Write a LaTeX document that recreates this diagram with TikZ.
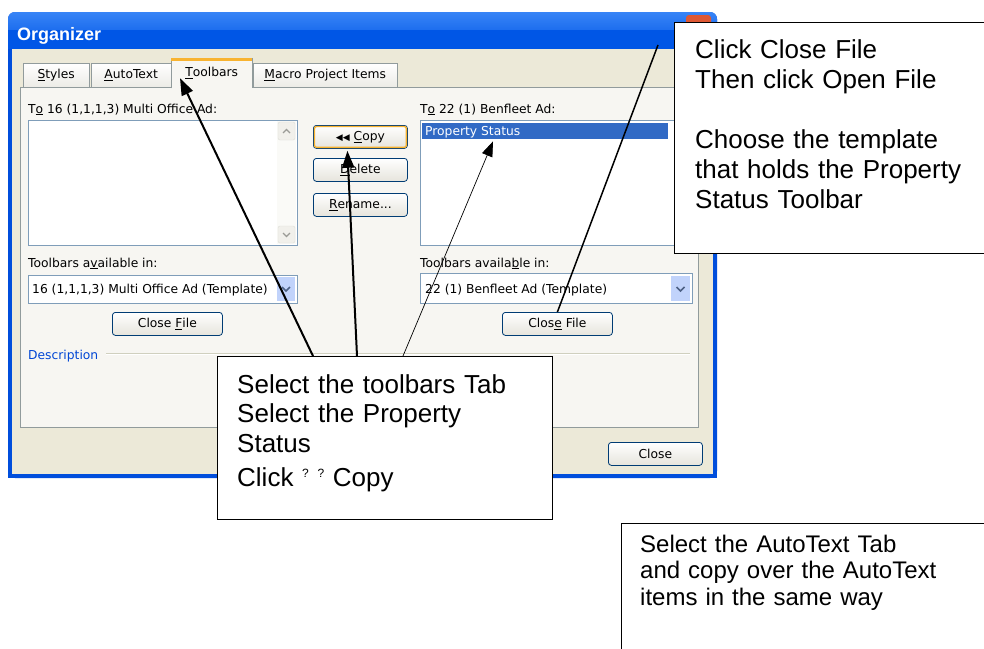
\documentclass[tikz,border=0pt]{standalone}
\usepackage{fontspec}
\setmainfont{Liberation Sans}
\newfontfamily\uifont{DejaVu Sans}
\usetikzlibrary{arrows.meta}

% Windows XP style palette
\definecolor{xpframe}{RGB}{0,78,220}
\definecolor{xpblue}{RGB}{0,86,230}
\definecolor{xpblueTop}{RGB}{56,132,246}
\definecolor{xpbeige}{RGB}{236,233,216}
\definecolor{pagebg}{RGB}{247,246,242}
\definecolor{tabline}{RGB}{145,155,156}
\definecolor{tablow}{RGB}{236,235,230}
\definecolor{fieldline}{RGB}{127,157,185}
\definecolor{btnline}{RGB}{0,60,116}
\definecolor{btnlow}{RGB}{230,228,220}
\definecolor{hotorange}{RGB}{248,179,48}
\definecolor{selblue}{RGB}{49,106,197}
\definecolor{dropblue}{RGB}{193,211,251}
\definecolor{chevron}{RGB}{77,97,133}
\definecolor{descblue}{RGB}{0,70,213}
\definecolor{closered}{RGB}{222,88,52}
\definecolor{sepline}{RGB}{208,208,191}
\definecolor{scrollbg}{RGB}{250,250,247}
\definecolor{scrollbtn}{RGB}{241,240,235}
\definecolor{scrolledge}{RGB}{222,222,215}

\newcommand\acc[1]{\underline{#1}}
\newcommand\qmark{\raisebox{9pt}{\fontsize{12}{12}\selectfont ?}}

\tikzset{
  uitext/.style={font=\uifont\fontsize{12.3}{14}\selectfont, inner sep=0pt, anchor=base west},
  tabbox/.style={draw=tabline, top color=white, bottom color=tablow, inner sep=0pt,
    anchor=north west, minimum height=24pt, font=\uifont\fontsize{12.3}{14}\selectfont},
  field/.style={draw=fieldline, fill=white, line width=0.8pt},
  pushbtn/.style={draw=btnline, line width=0.8pt, rounded corners=3pt, top color=white,
    bottom color=btnlow, inner sep=0pt, anchor=north west, minimum height=23pt,
    font=\uifont\fontsize{12.3}{14}\selectfont},
  chev/.style={draw=chevron, line width=1.6pt},
  callout/.style={draw=black, fill=white, line width=1.2pt, anchor=north west, inner sep=0pt},
  calltext/.style={anchor=base west, inner sep=0pt, align=left},
  pointer/.style={line width=2pt, -{Triangle[length=17pt,width=12pt]}},
  thinpointer/.style={line width=0.7pt, -{Triangle[length=15pt,width=11pt]}},
  leader/.style={line width=1.5pt}
}

\begin{document}
\begin{tikzpicture}[x=1pt,y=-1pt]
\useasboundingbox (0,0) rectangle (984,648);
\clip (0,0) rectangle (984,648);
\fill[white] (0,0) rectangle (984,648);

% ---------- dialog window ----------
\fill[xpframe, rounded corners=7pt] (8,12) rectangle (717,478);
\fill[xpframe] (8,40) rectangle (717,478);
\shade[top color=xpblueTop, bottom color=xpblue, rounded corners=7pt] (8,12) rectangle (717,49);
\fill[xpblue] (8,30) rectangle (717,49);
\fill[closered, rounded corners=3pt] (686,15) rectangle (711,40);
\fill[xpbeige] (12,49) rectangle (713,474);
\node[anchor=base west, inner sep=0pt, text=white, font=\bfseries\fontsize{18}{18}\selectfont]
  (title) at (17,40) {Organizer};

% tab page
\draw[tabline, fill=pagebg] (20,87) rectangle (698,427);

% tabs
\node[tabbox, minimum width=66pt] (tabStyles) at (23,63) {\acc{S}tyles};
\node[tabbox, minimum width=80pt] (tabAuto) at (91,63) {\acc{A}utoText};
\node[tabbox, minimum width=144pt] (tabMacro) at (253,63) {\acc{M}acro Project Items};
\node[fill=pagebg, inner sep=0pt, anchor=north west, minimum width=81pt, minimum height=30pt,
  font=\uifont\fontsize{12.3}{14}\selectfont] (tabTB) at (171,58) {\acc{T}oolbars};
\draw[tabline] (tabTB.south west) -- (tabTB.north west) -- (tabTB.north east) -- (tabTB.south east);
\fill[hotorange] (tabTB.north west) rectangle ([yshift=-3pt]tabTB.north east);

% left column
\node[uitext] (fromLbl) at (28,113) {T\acc{o} 16 (1,1,1,3) Multi Office Ad:};
\draw[field] (28,120) rectangle (297,245);
\fill[scrollbg] (277,121) rectangle (296,244);
\filldraw[draw=scrolledge, fill=scrollbtn, rounded corners=2pt] (278,122) rectangle (295,140);
\filldraw[draw=scrolledge, fill=scrollbtn, rounded corners=2pt] (278,226) rectangle (295,243);
\draw[scrolledge!70!black, line width=1.1pt] (283,133) -- (286.5,129.5) -- (290,133);
\draw[scrolledge!70!black, line width=1.1pt] (283,233) -- (286.5,236.5) -- (290,233);
\node[uitext] (availL) at (28,267) {Toolbars a\acc{v}ailable in:};
\draw[field] (28,275) rectangle (297,303);
\node[uitext] (comboL) at (32,293) {16 (1,1,1,3) Multi Office Ad (Template)};
\fill[dropblue] (277,277) rectangle (295,301);
\draw[chev] (282,287) -- (286,291) -- (290,287);
\node[pushbtn, minimum width=110pt] (closeL) at (112,312) {Close \acc{F}ile};

% centre buttons
\node[pushbtn, minimum width=94pt] (copy) at (313,125) {{\fontsize{9}{9}\selectfont ◀◀}\ \acc{C}opy};
\draw[hotorange, line width=1.4pt, rounded corners=2pt]
  ([shift={(1.5pt,-1.5pt)}]copy.north west) rectangle ([shift={(-1.5pt,1.5pt)}]copy.south east);
\node[pushbtn, minimum width=94pt] (delete) at (313,158) {\acc{D}elete};
\node[pushbtn, minimum width=94pt] (rename) at (313,193) {\acc{R}ename...};

% right column
\node[uitext] (toLbl) at (420,113) {T\acc{o} 22 (1) Benfleet Ad:};
\draw[field] (420,120) rectangle (690,245);
\node[fill=selblue, inner sep=0pt, anchor=north west, minimum width=246pt, minimum height=16pt]
  (propsel) at (422,123) {};
\node[uitext, text=white] (propTxt) at (425,135.5) {Property Status};
\node[uitext] (availR) at (420,267) {Toolbars availa\acc{b}le in:};
\draw[field] (420,273) rectangle (692,303);
\node[uitext] (comboR) at (425,293) {22 (1) Benfleet Ad (Template)};
\fill[dropblue] (671,276) rectangle (690,301);
\draw[chev] (676.5,287) -- (680.5,291) -- (684.5,287);
\node[pushbtn, minimum width=110pt] (closeR) at (502,312) {Clos\acc{e} File};

% description group
\node[uitext, text=descblue] (descr) at (28,359) {Description};
\draw[sepline] (106,353.5) -- (690,353.5);
\draw[white] (106,354.5) -- (690,354.5);

% dialog close button
\node[pushbtn, minimum width=94pt] (closeBtn) at (608,442) {Close};

% ---------- callouts ----------
\node[callout, minimum width=335pt, minimum height=163pt] (midbox) at (217,356) {};
\node[callout, minimum width=330pt, minimum height=231pt] (tr) at (674,22) {};
\node[callout, minimum width=380pt, minimum height=140pt] (br) at (621,523) {};

\coordinate (leadTop) at ([xshift=-16pt,yshift=-23pt]tr.north west);

% connectors
\draw[pointer] ([xshift=96pt]midbox.north west) -- ([xshift=9pt,yshift=-5pt]tabTB.west);
\draw[pointer] ([xshift=140pt]midbox.north west) -- ([xshift=-13pt,yshift=-2pt]copy.south);
\draw[thinpointer] ([xshift=186pt]midbox.north west) -- ([xshift=71pt,yshift=-2pt]propsel.south west);
\draw[leader] (closeR.north) -- (leadTop);

% callout texts
\node[calltext, text width=310pt, font=\fontsize{26}{29.5}\selectfont] (midText) at (237,393)
  {Select the toolbars Tab\\Select the Property\\Status\\[4.5pt]Click \qmark{} \qmark{} Copy};
\node[calltext, text width=290pt, font=\fontsize{26}{30}\selectfont] (trText) at (695,58)
  {Click Close File\\Then click Open File\\[30pt]Choose the template\\that holds the Property\\Status Toolbar};
\node[calltext, text width=340pt, font=\fontsize{24}{26.5}\selectfont] (brText) at (640,552)
  {Select the AutoText Tab\\and copy over the AutoText\\items in the same way};
\end{tikzpicture}
\end{document}
